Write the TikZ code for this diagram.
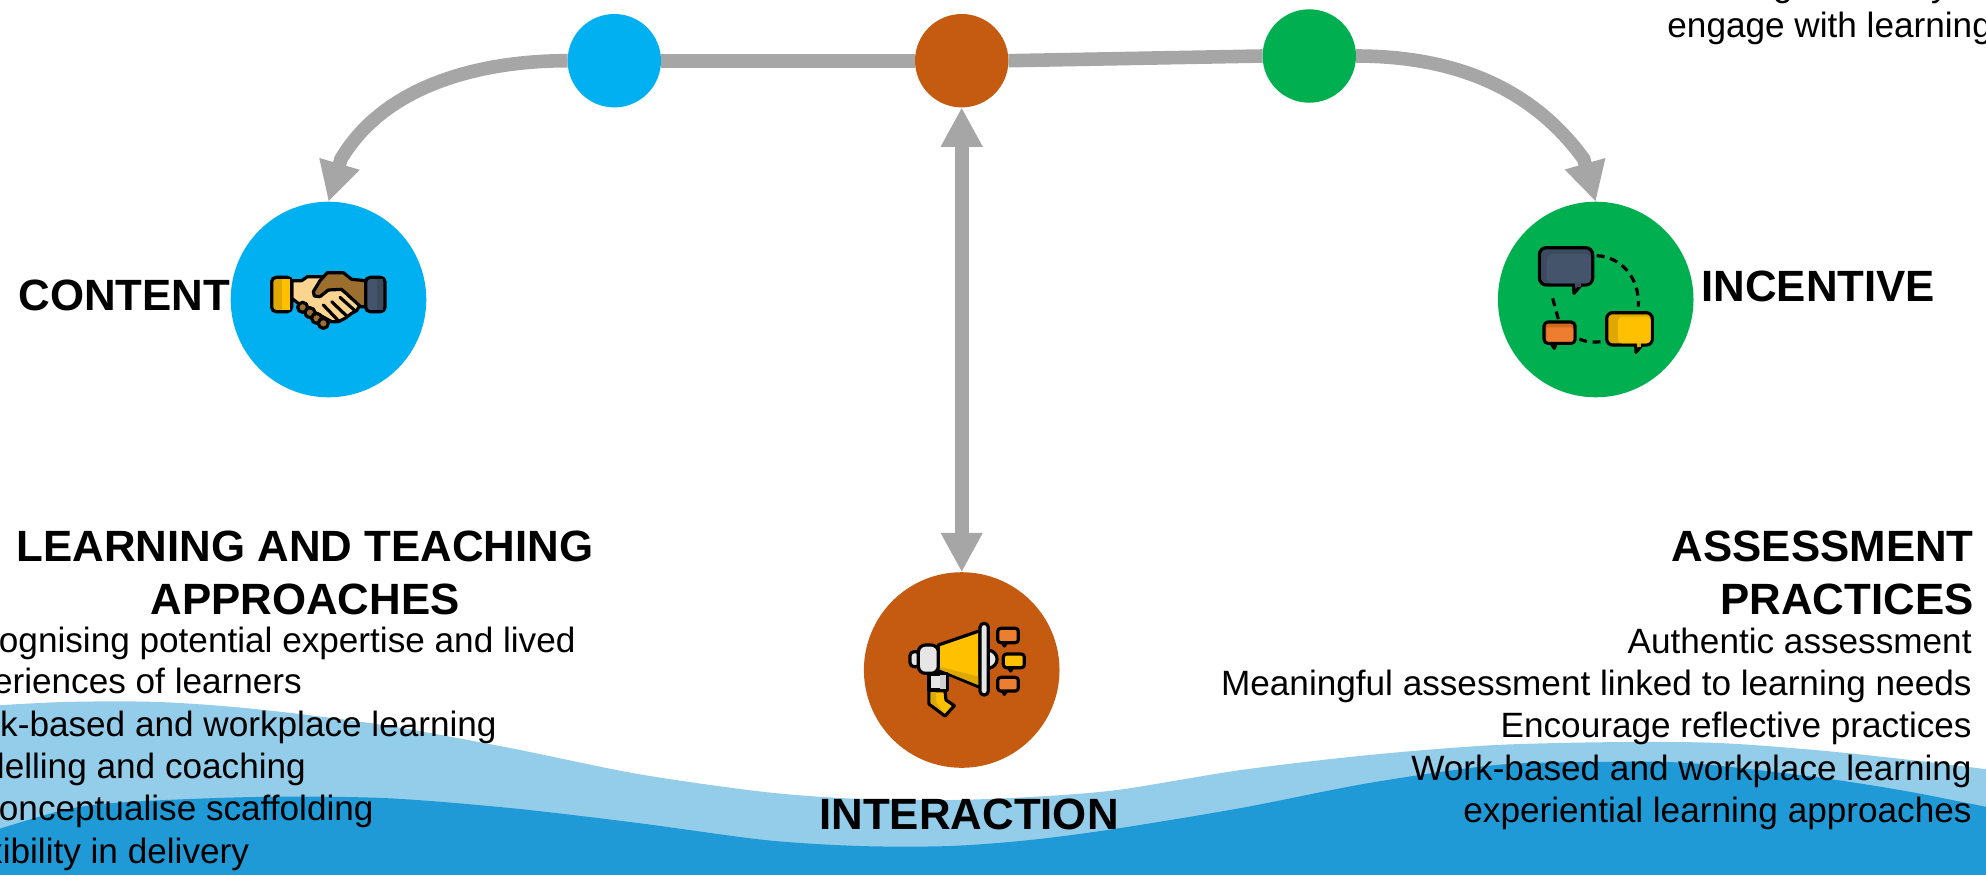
\documentclass[tikz,border=0pt]{standalone}
\usepackage{fontspec}
\setmainfont{Liberation Sans}
\usetikzlibrary{arrows.meta}
\definecolor{cblue}{HTML}{00B0F0}
\definecolor{cbrown}{HTML}{C55A11}
\definecolor{cgreen}{HTML}{00B050}
\definecolor{cgray}{HTML}{A6A6A6}
\definecolor{wlight}{HTML}{93CDEA}
\definecolor{wdark}{HTML}{1F9AD6}
\definecolor{slate}{HTML}{44546A}
\definecolor{slated}{HTML}{3B4A5E}
\definecolor{gold}{HTML}{FFC000}
\definecolor{goldd}{HTML}{DFA800}
\definecolor{orng}{HTML}{ED7D31}
\definecolor{orngd}{HTML}{D0691F}
\definecolor{skin}{HTML}{FBD490}
\definecolor{tan}{HTML}{9C6F2F}
\definecolor{lgray}{HTML}{E7E6E6}
\definecolor{mgray}{HTML}{CFCFCF}
\tikzset{
  smalldot/.style={circle,minimum size=46.7pt,inner sep=0pt,outer sep=0pt},
  bigdot/.style={circle,minimum size=97.8pt,inner sep=0pt,outer sep=0pt},
  conn/.style={draw=cgray,line width=6.8pt},
  tipped/.style={conn,-{Triangle[length=19.7pt,width=19.6pt]}},
  bothtipped/.style={conn,{Triangle[length=19.7pt,width=19.6pt]}-{Triangle[length=19.7pt,width=19.6pt]}},
  body/.style={inner sep=0pt,font=\fontsize{17.58}{18}\selectfont,text=black},
  head/.style={inner sep=0pt,font=\fontsize{21.9}{22}\selectfont\bfseries,text=black},
  ik/.style={draw=black,line width=1.6pt,line join=round,line cap=round},
  dashy/.style={draw=black,line width=1.6pt,dash pattern=on 4pt off 2.8pt},
}
\begin{document}
\begin{tikzpicture}[x=0.5pt,y=-0.5pt]
\useasboundingbox (0,0) rectangle (1986,874);
\clip (0,0) rectangle (1986,874);
% waves
\fill[wlight] plot[smooth] coordinates {(-30,707)(64,702)(159,702)(255,709)(383,725)(510,748)(638,774)(765,792)(860,799)(950,800)(1030,797)(1117,790)(1241,770)(1369,755)(1496,745)(1624,742)(1719,743)(1815,750)(1911,760)(2016,773)} -- (2016,890) -- (-30,890) -- cycle;
\fill[wdark] plot[smooth] coordinates {(-30,838)(64,810)(128,802)(255,797)(383,798)(510,808)(638,823)(765,840)(860,846)(950,846)(1030,840)(1114,829)(1241,808)(1369,783)(1496,765)(1592,762)(1688,763)(1815,777)(1911,792)(2016,813)} -- (2016,890) -- (-30,890) -- cycle;
% nodes
\node[smalldot,fill=cblue] (sb) at (614.3,60.7) {};
\node[smalldot,fill=cbrown] (sbr) at (961.7,60.7) {};
\node[smalldot,fill=cgreen] (sg) at (1309.3,56) {};
\node[bigdot,fill=cblue] (cb) at (328.5,299.5) {};
\node[bigdot,fill=cgreen] (cg) at (1595.7,299.5) {};
\node[bigdot,fill=cbrown] (cbr) at (961.7,670) {};
\coordinate (lbase) at (341,159);
\coordinate (rbase) at (1583.7,159);
% connectors
\draw[conn] (sb.east) -- (sbr.west);
\draw[conn] (sbr.east) -- (sg.west);
\draw[tipped] (sb.west) .. controls (480,60.7) and (385,85) .. (lbase) -- (cb.north);
\draw[tipped] (sg.east) .. controls (1450,56) and (1530,85) .. (rbase) -- (cg.north);
\draw[bothtipped] (sbr.south) -- (cbr.north);
% handshake icon
\begin{scope}[shift={(220,190)},scale=1/3]
  \filldraw[ik,fill=skin] (215,272) -- (245,272) -- (262,260) -- (320,260) -- (420,345) -- (410,362) -- (395,370) -- (375,385) -- (355,395) -- (335,395) -- (235,340) -- (215,325) -- cycle;
  \foreach \a/\b in {248/352,270/368,290/385,310/400}
    \filldraw[ik,fill=tan] (\a,\b) circle [radius=15];
  \draw[ik] (310,345) -- (355,392);
  \draw[ik] (335,335) -- (380,378);
  \draw[ik] (360,322) -- (405,362);
  \filldraw[ik,fill=tan] (437,272) -- (395,268) -- (370,248) -- (322,248) -- (300,272) -- (280,305) -- (283,318) -- (300,320) -- (325,300) -- (365,298) -- (422,350) -- (437,350) -- cycle;
  \filldraw[ik,fill=goldd,rounded corners=2.2pt] (155,262) rectangle (215,365);
  \fill[gold] (186,268) rectangle (210,360);
  \filldraw[ik,fill=slate,rounded corners=2.2pt] (437,262) rectangle (495,365);
  \fill[slated] (472,268) rectangle (490,360);
\end{scope}
% chat icon
\begin{scope}[shift={(1490,190)},scale=1/3]
  \draw[dashy] (320,197) .. controls (390,200) and (450,260) .. (445,350);
  \draw[dashy] (188,325) -- (205,388);
  \draw[dashy] (268,447) .. controls (290,457) and (310,457) .. (335,455);
  \filldraw[ik,fill=slated] (250,280) -- (252,310) -- (278,280) -- cycle;
  \filldraw[ik,fill=slated,rounded corners=3.5pt] (148,173) rectangle (308,285);
  \fill[slated] (256,280) rectangle (272,290);
  \fill[slate,rounded corners=2.5pt] (170,192) rectangle (303,280);
  \filldraw[ik,fill=goldd] (437,460) -- (438,487) -- (460,460) -- cycle;
  \filldraw[ik,fill=goldd,rounded corners=3pt] (350,368) rectangle (487,465);
  \fill[goldd] (442,460) rectangle (452,470);
  \fill[gold,rounded corners=2pt] (384,380) rectangle (482,460);
  \filldraw[ik,fill=orngd] (180,455) -- (193,475) -- (200,455) -- cycle;
  \filldraw[ik,fill=orngd,rounded corners=2pt] (162,396) rectangle (255,460);
  \fill[orng,rounded corners=1pt] (170,412) rectangle (250,455);
\end{scope}
% megaphone icon
\begin{scope}[shift={(860,560)},scale=1/3]
  \filldraw[ik,fill=lgray] (385,270) .. controls (420,275) and (420,320) .. (385,325) -- cycle;
  \filldraw[ik,fill=gold] (235,255) -- (360,212) -- (360,382) -- (235,330) -- cycle;
  \fill[goldd] (238,320) -- (357,350) -- (357,376) -- (238,328) -- cycle;
  \filldraw[ik,fill=lgray,rounded corners=2pt] (150,275) rectangle (180,320);
  \filldraw[ik,fill=lgray,rounded corners=3.5pt] (175,255) -- (235,255) -- (235,340) -- (175,340) -- cycle;
  \filldraw[ik,fill=lgray] (207,342) rectangle (262,390);
  \fill[mgray] (240,346) rectangle (258,386);
  \filldraw[ik,fill=gold] (207,392) -- (255,392) -- (258,420) -- (283,437) -- (255,468) -- (207,432) -- cycle;
  \fill[goldd] (212,396) -- (228,396) -- (230,430) -- (250,455) -- (212,428) -- cycle;
  \filldraw[ik,fill=lgray,rounded corners=2pt] (360,190) rectangle (385,405);
  \filldraw[ik,fill=orng] (425,244) -- (433,258) -- (442,244) -- cycle;
  \filldraw[ik,fill=orng,rounded corners=1.5pt] (413,205) rectangle (475,248);
  \filldraw[ik,fill=gold] (443,319) -- (452,333) -- (460,319) -- cycle;
  \filldraw[ik,fill=gold,rounded corners=1.5pt] (430,282) rectangle (493,323);
  \filldraw[ik,fill=orng] (425,389) -- (433,403) -- (442,389) -- cycle;
  \filldraw[ik,fill=orng,rounded corners=1.5pt] (413,352) rectangle (475,393);
\end{scope}
% text
\node[body,anchor=base] (tg) at (1783,-4) {g};
\node[body,anchor=base] (ty) at (1940,-4) {y};
\node[body,anchor=base west] (t0) at (1667,37) {engage with learning};
\node[head,anchor=base] (h1) at (305,561.5) {LEARNING AND TEACHING};
\node[head,anchor=base] (h2) at (305,614.5) {APPROACHES};
\node[head,anchor=base east] (h3) at (1974,561.5) {ASSESSMENT};
\node[head,anchor=base east] (h4) at (1974,614.5) {PRACTICES};
\node[head,anchor=base west] (l1) at (18,310.5) {CONTENT};
\node[head,anchor=base west] (l2) at (1701,301.5) {INCENTIVE};
\node[head,anchor=base] (l3) at (969,829) {INTERACTION};
\node[body,anchor=base west] (a1) at (-64,652) {Recognising potential expertise and lived};
\node[body,anchor=base west] (a2) at (-64,693) {experiences of learners};
\node[body,anchor=base west] (a3) at (-64,736) {Work-based and workplace learning};
\node[body,anchor=base west] (a4) at (-64,778) {Modelling and coaching};
\node[body,anchor=base west] (a5) at (-64,820) {Reconceptualise scaffolding};
\node[body,anchor=base west] (a6) at (-64,863) {Flexibility in delivery};
\node[body,anchor=base east] (b1) at (1972,653) {Authentic assessment};
\node[body,anchor=base east] (b2) at (1972,695) {Meaningful assessment linked to learning needs};
\node[body,anchor=base east] (b3) at (1972,737) {Encourage reflective practices};
\node[body,anchor=base east] (b4) at (1972,780) {Work-based and workplace learning};
\node[body,anchor=base east] (b5) at (1972,822) {experiential learning approaches};
\end{tikzpicture}
\end{document}
